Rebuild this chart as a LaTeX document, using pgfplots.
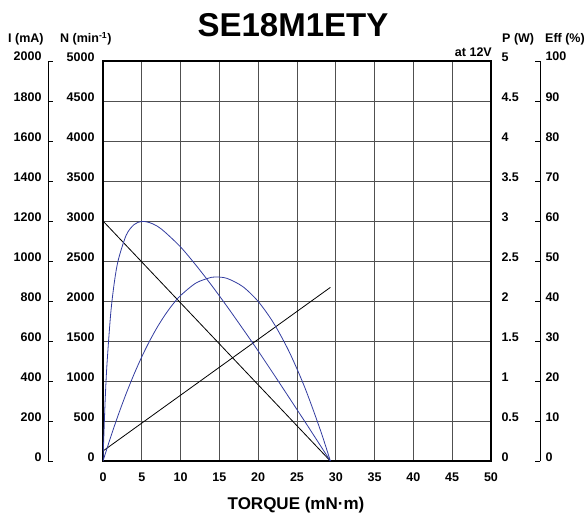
\documentclass[border=0pt]{standalone}
\usepackage{fontspec}
\setmainfont{Liberation Sans}
\usepackage{pgfplots}
\pgfplotsset{compat=1.18}
\definecolor{curveblue}{RGB}{50,60,160}
\definecolor{gridgray}{RGB}{80,80,80}

\newcommand{\tk}{\bfseries\fontsize{12.5}{12.5}\selectfont}

% motor curve, 12 V
\pgfplotstableread{
T    N
0    3000
29.3 0
}\speed
\pgfplotstableread{
T    I
0    50
29.3 868
}\current
\pgfplotstableread{
T     P
0     0
1     0.303
2     0.585
3     0.846
4     1.085
5     1.303
6     1.499
7     1.674
8     1.827
9     1.959
10    2.069
12    2.226
14    2.297
14.65 2.301
16    2.282
18    2.181
20    1.994
22    1.722
24    1.364
26    0.920
28    0.390
29.3  0
}\power
\pgfplotstableread{
T     E
0     0
0.25  13.8
0.5   23.8
1     37.0
1.5   45.2
2     50.5
3     56.5
4     59.1
5     59.9
6     59.6
7     58.7
8     57.2
10    53.5
12    48.9
14    43.9
16    38.6
18    33.1
20    27.5
22    21.7
24    15.8
26    9.9
28    3.9
29.3  0
}\eff

\pgfplotsset{
  box/.style={at={(0pt,0pt)}, anchor=south west, scale only axis,
    width=388pt, height=400pt, xmin=0, xmax=50},
  every tick label/.append style={font=\tk},
  /pgf/number format/assume math mode=true,
  /pgf/number format/1000 sep={},
}

\begin{document}
\begin{tikzpicture}
\path[use as bounding box] (-103pt,-54pt) rectangle (482pt,461pt);

% main axis: speed
\begin{axis}[box, ymin=0, ymax=5000,
  xtick={0,5,...,50}, ytick={0,500,...,5000},
  grid=major, major grid style={gridgray, line width=1pt},
  axis line style={line width=1.6pt}, major tick length=0pt,
  yticklabel style={anchor=base east, xshift=-5pt},
  xticklabel style={yshift=-8pt}]
\addplot[black, line width=0.8pt] table[x=T, y=N] {\speed};
\end{axis}

% current
\begin{axis}[box, ymin=0, ymax=2000, hide axis]
\addplot[black, line width=0.8pt] table[x=T, y=I] {\current};
\end{axis}

% output power, with its labels on the right
\begin{axis}[box, ymin=0, ymax=5, axis x line=none, axis y line*=right,
  y axis line style={draw=none}, ytick={0,0.5,...,5}, major tick length=0pt,
  yticklabel style={anchor=base west, xshift=7pt}]
\addplot[curveblue, line width=0.8pt, smooth] table[x=T, y=P] {\power};
\end{axis}

% efficiency
\begin{axis}[box, ymin=0, ymax=100, hide axis]
\addplot[curveblue, line width=0.8pt, smooth] table[x=T, y=E] {\eff};
\end{axis}

% current scale (left bracket)
\begin{axis}[at={(-55pt,0pt)}, anchor=south west, scale only axis,
  width=5pt, height=400pt, xmin=0, xmax=1, ymin=0, ymax=2000,
  axis x line=none, axis y line*=left, y axis line style={-, line width=0.8pt},
  ytick={0,200,...,2000}, tick align=inside, major tick length=5pt,
  ytick style={black, line width=0.8pt},
  yticklabel style={anchor=base east, xshift=-3pt}]
\end{axis}

% efficiency scale (right bracket)
\begin{axis}[at={(432pt,0pt)}, anchor=south west, scale only axis,
  width=5pt, height=400pt, xmin=0, xmax=1, ymin=0, ymax=100,
  axis x line=none, axis y line*=right, y axis line style={-, line width=0.8pt},
  ytick={0,10,...,100}, tick align=inside, major tick length=5pt,
  ytick style={black, line width=0.8pt},
  yticklabel style={anchor=base west, xshift=2pt}]
\end{axis}

\node[anchor=base west, inner sep=0pt, font=\tk] at (-95pt,418pt) {I (mA)};
\node[anchor=base west, inner sep=0pt, font=\tk] at (-43pt,418pt) {N (min\textsuperscript{-1})};
\node[anchor=base west, inner sep=0pt, font=\tk] at (399pt,418pt) {P (W)};
\node[anchor=base west, inner sep=0pt, font=\tk] at (442pt,418pt) {Eff (\%)};
\node[anchor=base east, inner sep=0pt, font=\tk] at (389pt,404pt) {at 12V};
\node[anchor=base, inner sep=0pt, font=\bfseries\fontsize{33}{33}\selectfont] at (190pt,424pt) {SE18M1ETY};
\node[anchor=base, inner sep=0pt, font=\bfseries\fontsize{17}{17}\selectfont] at (193pt,-48.5pt) {TORQUE (mN·m)};
\end{tikzpicture}
\end{document}
